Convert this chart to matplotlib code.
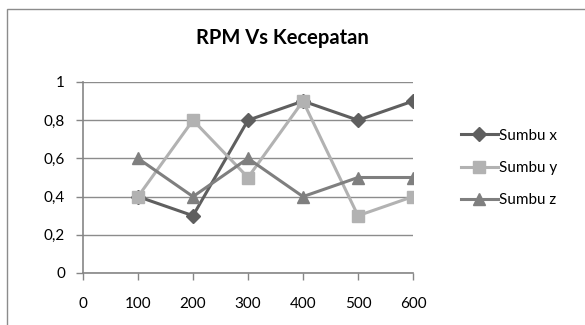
import matplotlib
matplotlib.use("Agg")
import matplotlib.pyplot as plt
from matplotlib.patches import Rectangle

plt.rcParams['font.family'] = ['Lato', 'DejaVu Sans']

rpm = [100, 200, 300, 400, 500, 600]
sumbu_x = [0.4, 0.3, 0.8, 0.9, 0.8, 0.9]
sumbu_y = [0.4, 0.8, 0.5, 0.9, 0.3, 0.4]
sumbu_z = [0.6, 0.4, 0.6, 0.4, 0.5, 0.5]
series_names = ["Sumbu x", "Sumbu y", "Sumbu z"]
x_ticks = [0, 100, 200, 300, 400, 500, 600]
y_ticks = [0, 0.2, 0.4, 0.6, 0.8, 1.0]
y_tick_labels = ["0", "0,2", "0,4", "0,6", "0,8", "1"]

W, H = 585, 325
fig = plt.figure(figsize=(W / 100, H / 100), dpi=100)
fig.patch.set_facecolor('white')

# chart border (cropped at right and bottom)
fig.patches.append(Rectangle((7 / W, -0.1), 1.2, (H - 9) / H + 0.1,
                             transform=fig.transFigure, fill=False,
                             edgecolor='#8c8c8c', linewidth=1.0))

ax = fig.add_axes([83 / W, (H - 273) / H, (413 - 83) / W, (273 - 82) / H])
ax.set_xlim(0, 600)
ax.set_ylim(0, 1)

ax.plot(rpm, sumbu_x, color='#5f5f5f', marker='D', markersize=7.5,
        linewidth=2.2, label=series_names[0], zorder=3)
ax.plot(rpm, sumbu_y, color='#b2b2b2', marker='s', markersize=8.5,
        linewidth=2.2, label=series_names[1], zorder=3)
ax.plot(rpm, sumbu_z, color='#7f7f7f', marker='^', markersize=9,
        linewidth=2.2, label=series_names[2], zorder=3)

ax.set_xticks(x_ticks)
ax.set_yticks(y_ticks)
ax.set_yticklabels(y_tick_labels)
ax.yaxis.grid(True, color='#8c8c8c', linewidth=1.0)
ax.set_axisbelow(True)
for s in ['top', 'right']:
    ax.spines[s].set_visible(False)
for s in ['left', 'bottom']:
    ax.spines[s].set_color('#868686')
    ax.spines[s].set_linewidth(1.2)
ax.tick_params(axis='both', colors='#868686', labelcolor='black',
               labelsize=11, length=5, width=1.0, direction='out')
ax.tick_params(axis='x', pad=12)
ax.tick_params(axis='y', pad=8)

fig.text(282 / W, 1 - 38 / H, "RPM Vs Kecepatan", ha='center', va='center',
         fontsize=14.5, fontweight='bold')

leg = fig.legend(loc='center left', bbox_to_anchor=(455 / W, 1 - 168 / H),
                 frameon=False, fontsize=11, handlelength=2.4,
                 handletextpad=0.1, labelspacing=1.2, borderaxespad=0)

fig.savefig("out.png", dpi=100, facecolor='white')
